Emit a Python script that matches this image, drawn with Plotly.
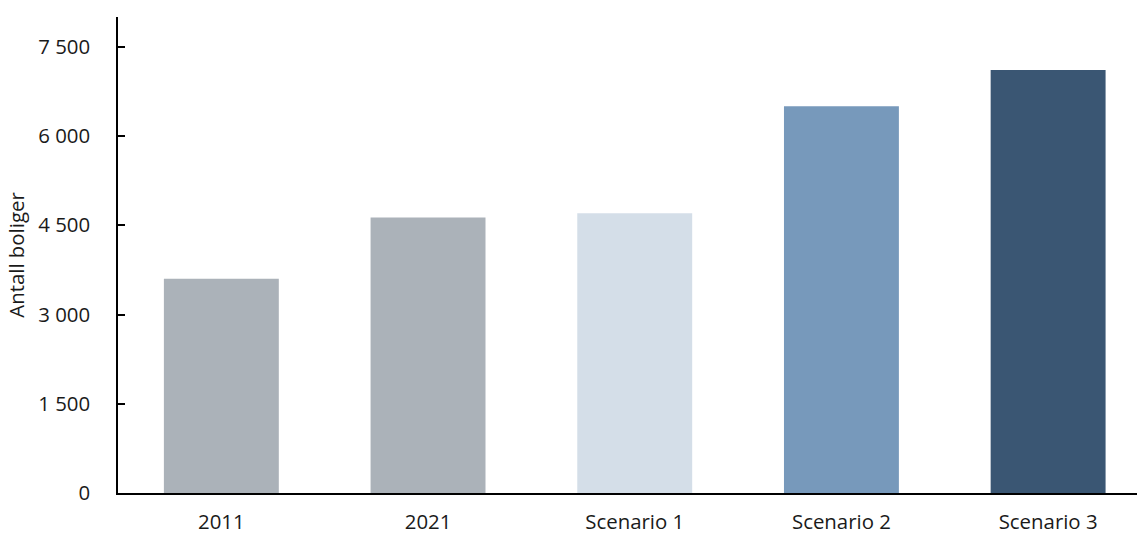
import plotly.graph_objects as go

categories = ["2011", "2021", "Scenario 1", "Scenario 2", "Scenario 3"]
values = [3600, 4630, 4700, 6500, 7110]
bar_colors = ["#ABB2B9", "#ABB2B9", "#D4DEE8", "#7799BB", "#3A5673"]
y_ticks = [0, 1500, 3000, 4500, 6000, 7500]

fig = go.Figure(
    go.Bar(
        x=list(range(len(categories))),
        y=values,
        marker=dict(color=bar_colors, line=dict(width=0)),
        width=0.556,
    )
)

font_family = "'Open Sans', sans-serif"
font_size = 20.4

fig.update_layout(
    width=1137,
    height=534,
    margin=dict(l=118, r=0, t=17, b=41),
    paper_bgcolor="white",
    plot_bgcolor="white",
    showlegend=False,
    font=dict(family=font_family, size=font_size, color="#1a1a1a"),
)

fig.update_xaxes(
    tickmode="array",
    tickvals=list(range(len(categories))),
    ticktext=categories,
    range=[-0.5, 4.43],
    showline=True,
    linecolor="black",
    linewidth=1.5,
    ticks="",
    showgrid=False,
    zeroline=False,
    ticklabelstandoff=10,
    tickfont=dict(size=font_size),
)

fig.update_yaxes(
    range=[0, 8000],
    tickmode="array",
    tickvals=y_ticks,
    ticktext=[f"{v:,}".replace(",", " ") for v in y_ticks],
    showline=True,
    linecolor="black",
    linewidth=1.5,
    ticks="inside",
    ticklen=7,
    tickwidth=1.5,
    tickcolor="black",
    showgrid=False,
    zeroline=False,
    ticklabelstandoff=22,
    tickfont=dict(size=font_size),
    title=dict(text="Antall boliger", font=dict(size=font_size), standoff=8),
)

fig.write_html("out.html")
